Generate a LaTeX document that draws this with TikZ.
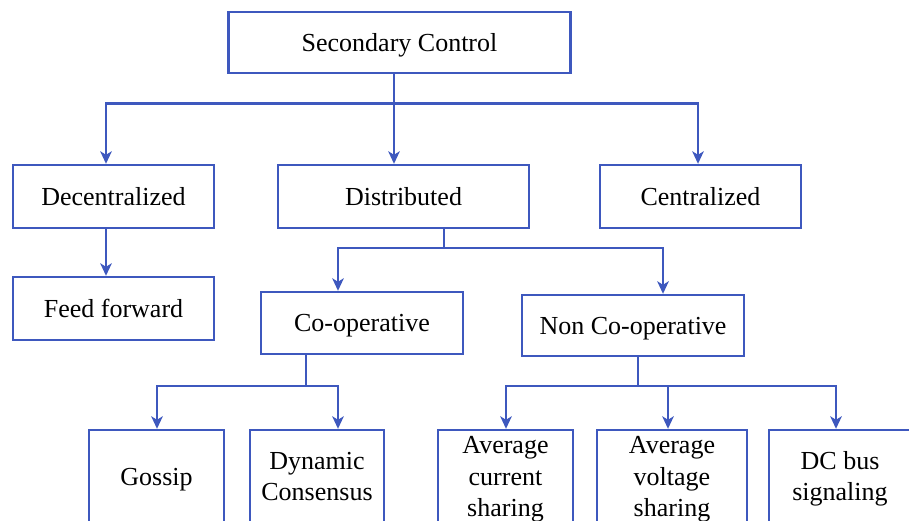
\documentclass[tikz,border=0pt]{standalone}
\usepackage{fontspec}
\setmainfont{Liberation Serif}
\usetikzlibrary{arrows.meta}
\definecolor{linkblue}{RGB}{62,88,190}
\begin{document}
\begin{tikzpicture}[x=1pt,y=-1pt,
  box/.style={draw=linkblue,line width=2.4pt,rectangle,inner sep=0pt},
  lbl/.style={inner sep=0pt,yshift=-2.2pt,
    font=\fontsize{26}{31.5}\selectfont},
  txt/.style={label={[lbl]center:{\begin{tabular}{@{}c@{}}#1\end{tabular}}}},
  link/.style={draw=linkblue,line width=2.4pt},
  arr/.style={link,-{Stealth[length=12.5pt,width=11.5pt,inset=3.5pt]}}]
\clip (0,0) rectangle (909,520);
\fill[white] (0,0) rectangle (909,520);

% boxes
\node[box,minimum width=342,minimum height=61,txt={Secondary Control}] (sc) at (399.5,42.5) {};
\node[box,minimum width=201,minimum height=63,txt={Decentralized}] (dec) at (113.5,196.5) {};
\node[box,minimum width=251,minimum height=63,txt={Distributed}] (dis) at (403.5,196.5) {};
\node[box,minimum width=201,minimum height=63,txt={Centralized}] (cen) at (700.5,196.5) {};
\node[box,minimum width=201,minimum height=63,txt={Feed forward}] (ff) at (113.5,308.5) {};
\node[box,minimum width=202,minimum height=62,txt={Co-operative}] (coop) at (362,323) {};
\node[box,minimum width=222,minimum height=61,txt={Non Co-operative}] (ncoop) at (633,325.5) {};
\node[box,minimum width=135,minimum height=93,txt={Gossip}] (gos) at (156.5,476.5) {};
\node[box,minimum width=134,minimum height=93,txt={Dynamic\\Consensus}] (dyn) at (317,476.5) {};
\node[box,minimum width=135,minimum height=93,txt={Average\\current\\sharing}] (avc) at (505.5,476.5) {};
\node[box,minimum width=150,minimum height=93,txt={Average\\voltage\\sharing}] (avv) at (672,476.5) {};
\node[box,minimum width=142,minimum height=93,txt={DC bus\\signaling}] (dcb) at (840,476.5) {};

% junctions and drop lines
\coordinate (j1) at (394,103.5);
\coordinate (xa) at (106,0);
\coordinate (xb) at (698,0);
\coordinate (j2) at (444,248);
\coordinate (xc) at (338,0);
\coordinate (xd) at (663,0);
\coordinate (j3) at (306,386);
\coordinate (xe) at (157,0);
\coordinate (j4) at (638,386);
\coordinate (xf) at (506,0);
\coordinate (xg) at (668,0);
\coordinate (xh) at (836,0);

% first level
\draw[arr] (sc.south -| j1) -- (dis.north -| j1);
\draw[arr] (j1) -| (dec.north -| xa);
\draw[arr] (j1) -| (cen.north -| xb);
\draw[arr] (dec.south -| xa) -- (ff.north -| xa);

% distributed branch
\draw[link] (dis.south -| j2) -- (j2);
\draw[arr] (j2) -| (coop.north -| xc);
\draw[arr] (j2) -| (ncoop.north -| xd);

% co-operative branch
\draw[link] (coop.south -| j3) -- (j3);
\draw[arr] (j3) -| (gos.north -| xe);
\draw[arr] (j3) -| (dyn.north -| xc);

% non co-operative branch
\draw[link] (ncoop.south -| j4) -- (j4);
\draw[arr] (j4) -| (avc.north -| xf);
\draw[arr] (j4 -| xg) -- (avv.north -| xg);
\draw[arr] (j4) -| (dcb.north -| xh);
\end{tikzpicture}
\end{document}
